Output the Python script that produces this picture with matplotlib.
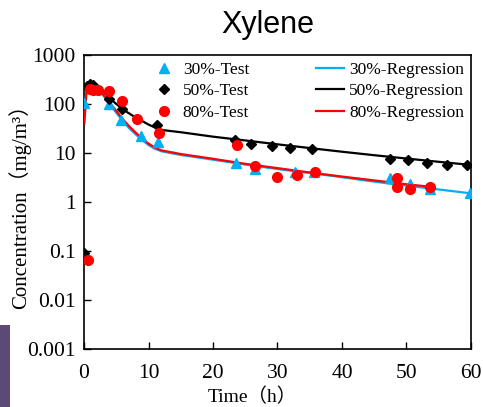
import matplotlib
matplotlib.use("Agg")
import matplotlib.pyplot as plt
from matplotlib.patches import Rectangle
from matplotlib.ticker import FixedLocator, FixedFormatter

serif = ['Liberation Serif', 'Noto Sans CJK SC', 'DejaVu Sans']
plt.rcParams['font.family'] = serif

# Measured points
t30 = [0.05, 3.9, 5.7, 8.8, 11.5, 23.6, 26.5, 32.7, 35.6, 47.4, 50.6, 53.6, 59.8]
c30 = [103, 99, 47, 22, 17, 6.3, 4.6, 4.0, 4.1, 3.05, 2.33, 1.82, 1.5]

t50 = [0.05, 0.4, 1.0, 1.45, 3.9, 5.9, 8.2, 11.3, 23.4, 25.9, 29.1, 31.9, 35.3,
       47.4, 50.2, 53.2, 56.3, 59.4]
c50 = [0.09, 236, 253, 245, 127, 79, 49, 37, 18.4, 15.3, 13.9, 12.6, 12.1,
       7.6, 7.2, 6.3, 5.7, 5.7]

t80 = [0.67, 0.93, 1.45, 2.1, 3.9, 5.9, 8.2, 11.6, 23.7, 26.5, 29.9, 33.1, 35.8,
       48.5, 48.5, 50.6, 53.6]
c80 = [0.066, 202, 193, 193, 184, 115, 49, 25, 14.6, 5.4, 3.3, 3.6, 4.0,
       3.1, 2.05, 1.84, 2.05]

# Regression curves
rt30 = [0.05, 0.5, 1, 2, 3, 4, 5, 6, 7, 8, 9, 10, 11, 12, 15, 20, 25, 30, 35,
        40, 45, 50, 55, 60]
rc30 = [100, 200, 212, 202, 148, 98, 66, 45, 32, 24, 18.5, 14.5, 12.2, 10.8,
        9.1, 7.3, 5.8, 4.7, 3.9, 3.2, 2.6, 2.15, 1.8, 1.5]

rt50 = [0.05, 0.5, 1, 1.5, 2, 3, 4, 5, 6, 7, 8, 9, 10, 11, 12, 15, 20, 25, 30,
        35, 40, 45, 50, 55, 60]
rc50 = [225, 245, 252, 250, 240, 180, 130, 100, 78, 64, 53, 45, 38, 33, 29.5,
        26.5, 21.5, 18, 15, 12.6, 10.6, 9, 7.7, 6.6, 5.7]

rt80 = [0.05, 0.4, 1, 2, 3, 4, 5, 6, 7, 8, 9, 10, 11, 12, 15, 20, 25, 30, 35,
        40, 45, 50, 53.6]
rc80 = [40, 200, 215, 210, 155, 105, 72, 49, 35, 26, 20, 15.5, 12.8, 11.3,
        9.5, 7.6, 6.0, 4.9, 4.0, 3.3, 2.75, 2.3, 2.05]

yticks = [0.001, 0.01, 0.1, 1, 10, 100, 1000]
ytick_labels = ['0.001', '0.01', '0.1', '1', '10', '100', '1000']
xticks = [0, 10, 20, 30, 40, 50, 60]

blue = '#00B0F0'
red = '#FF0000'

fig = plt.figure(figsize=(4.83, 4.07), dpi=100)
ax = fig.add_axes([0.174, 0.1425, 0.801, 0.7225])

ax.plot(t30, c30, linestyle='none', marker='^', color=blue, markersize=7,
        label='30%-Test', zorder=4)
ax.plot(t50, c50, linestyle='none', marker='D', color='black', markersize=5,
        label='50%-Test', zorder=4)
ax.plot(t80, c80, linestyle='none', marker='o', color=red, markersize=7,
        label='80%-Test', zorder=4)
ax.plot(rt30, rc30, color=blue, lw=1.6, label='30%-Regression', zorder=3)
ax.plot(rt50, rc50, color='black', lw=1.6, label='50%-Regression', zorder=3)
ax.plot(rt80, rc80, color=red, lw=1.6, label='80%-Regression', zorder=3)

ax.set_yscale('log')
ax.set_ylim(0.001, 1000)
ax.set_xlim(0, 60)
ax.yaxis.set_major_locator(FixedLocator(yticks))
ax.yaxis.set_major_formatter(FixedFormatter(ytick_labels))
ax.yaxis.set_minor_locator(FixedLocator([]))
ax.set_xticks(xticks)
ax.tick_params(direction='in', length=5, width=1, labelsize=15.5)
ax.tick_params(axis='x', pad=11)
ax.tick_params(axis='y', pad=6)
for s in ax.spines.values():
    s.set_linewidth(1.2)

ax.set_xlabel('Time（h）', fontsize=14)
ax.set_ylabel('Concentration（mg/m³）', fontsize=15)
ax.xaxis.set_label_coords(0.435, -0.13)
ax.yaxis.set_label_coords(-0.137, 0.5)
fig.text(0.555, 0.975, 'Xylene', family=['Liberation Sans', 'DejaVu Sans'],
         fontsize=22, ha='center', va='top')

ax.legend(ncol=2, loc='upper right', frameon=False, fontsize=12.5,
          handlelength=1.6, handletextpad=0.3, columnspacing=3.85,
          labelspacing=0.3, borderaxespad=0.0)

# strip at the lower left edge
fig.add_artist(Rectangle((0, 0), 10 / 483, 82 / 407, transform=fig.transFigure,
                         color='#5b4a78', lw=0))

fig.savefig('out.png', dpi=100)
